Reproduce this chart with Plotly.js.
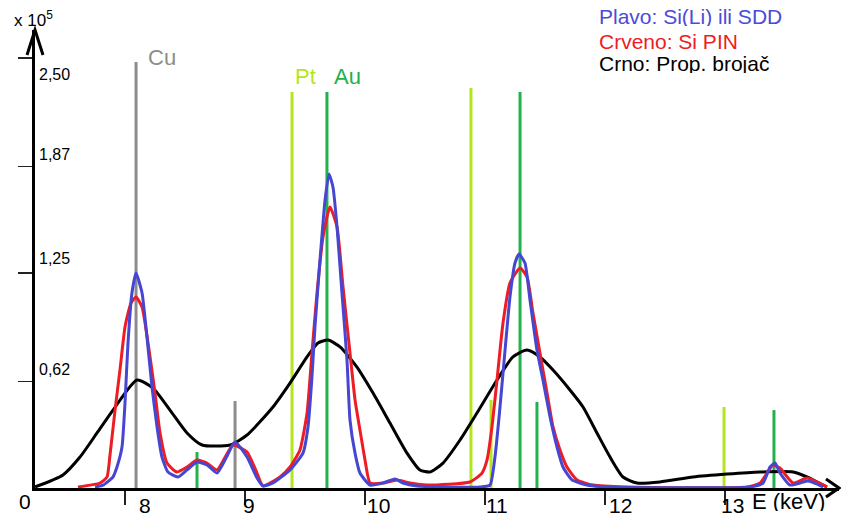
<!DOCTYPE html>
<html>
<head>
<meta charset="utf-8">
<script src="https://cdn.plot.ly/plotly-3.0.1.min.js"></script>
<style>html,body{margin:0;padding:0;background:#fff;}#chart{width:841px;height:517px;}</style>
</head>
<body>
<div id="chart"></div>
<script>
// Energy (keV) and intensity (x 10^5)
const blueE = [7.75,7.817,7.9,7.933,7.975,8.0,8.025,8.058,8.092,8.142,8.183,8.225,8.267,8.308,8.358,8.442,8.517,8.6,8.683,8.767,8.842,8.917,9.017,9.1,9.15,9.233,9.375,9.483,9.525,9.558,9.583,9.625,9.667,9.7,9.733,9.767,9.808,9.85,9.875,9.917,9.958,10.042,10.15,10.25,10.317,10.433,10.625,10.958,11.042,11.083,11.125,11.167,11.208,11.25,11.283,11.333,11.375,11.433,11.483,11.542,11.6,11.65,11.725,11.85,12.017,13.208,13.317,13.375,13.417,13.458,13.542,13.625,13.692,13.767,13.817];
const blueV = [0.006,0.017,0.064,0.122,0.238,0.494,0.843,1.134,1.25,1.134,0.878,0.587,0.355,0.18,0.093,0.064,0.105,0.151,0.134,0.087,0.174,0.267,0.18,0.058,0.012,0.029,0.105,0.203,0.355,0.645,0.936,1.326,1.674,1.826,1.75,1.517,1.134,0.744,0.395,0.203,0.087,0.017,0.029,0.052,0.029,0.012,0.006,0.006,0.017,0.18,0.471,0.802,1.11,1.308,1.36,1.308,1.093,0.802,0.628,0.413,0.238,0.122,0.047,0.017,0.006,0.006,0.029,0.122,0.145,0.087,0.017,0.029,0.041,0.023,0.006];

const redE = [7.608,7.792,7.85,7.875,7.917,7.958,8.0,8.05,8.092,8.142,8.192,8.25,8.292,8.35,8.433,8.517,8.6,8.683,8.767,8.9,9.017,9.1,9.15,9.292,9.375,9.458,9.517,9.558,9.6,9.65,9.708,9.767,9.817,9.875,9.917,9.958,10.0,10.042,10.15,10.267,10.375,10.517,10.875,10.975,11.017,11.058,11.1,11.15,11.208,11.292,11.35,11.4,11.458,11.517,11.567,11.625,11.683,11.767,11.9,12.183,13.183,13.292,13.4,13.458,13.567,13.683,13.767,13.85];
const redV = [0.006,0.029,0.064,0.192,0.453,0.686,0.936,1.076,1.11,1.052,0.843,0.552,0.32,0.145,0.093,0.122,0.163,0.145,0.105,0.25,0.209,0.087,0.012,0.064,0.122,0.221,0.436,0.785,1.134,1.459,1.634,1.517,1.169,0.785,0.512,0.337,0.163,0.029,0.029,0.047,0.029,0.017,0.035,0.087,0.163,0.355,0.628,0.959,1.192,1.279,1.227,1.017,0.785,0.552,0.355,0.221,0.122,0.047,0.017,0.006,0.006,0.029,0.134,0.116,0.029,0.058,0.035,0.006];

const blackE = [7.25,7.483,7.625,7.767,7.9,8.1,8.233,8.375,8.517,8.642,8.875,9.017,9.233,9.375,9.517,9.608,9.692,9.792,9.933,10.067,10.208,10.35,10.458,10.542,10.65,10.792,10.933,11.1,11.233,11.35,11.458,11.567,11.708,11.817,11.933,12.042,12.15,12.267,12.458,12.733,13.017,13.292,13.567,13.683,13.767,13.85];
const blackV = [0.006,0.076,0.18,0.32,0.453,0.628,0.581,0.453,0.32,0.25,0.25,0.308,0.471,0.61,0.762,0.843,0.86,0.82,0.703,0.552,0.378,0.203,0.105,0.093,0.145,0.279,0.436,0.628,0.762,0.802,0.762,0.686,0.57,0.471,0.32,0.18,0.064,0.029,0.035,0.064,0.081,0.093,0.093,0.064,0.035,0.006];

// Characteristic lines: energy, height, element
const lineE = [8.092, 8.917, 8.6, 9.392, 9.683, 10.883, 11.05, 11.292, 11.433, 12.992, 13.408];
const lineH = [2.477, 0.506, 0.209, 2.302, 2.302, 2.326, 0.512, 2.302, 0.5, 0.471, 0.453];
const lineEl = ["Cu", "Cu", "Au", "Pt", "Au", "Pt", "Pt", "Au", "Au", "Pt", "Au"];

const elemColor = {Cu: "#8c8c8c", Pt: "#b5e61d", Au: "#22b14c"};
const elemLabels = ["Cu", "Pt", "Au"];
const elemLabelE = [8.092, 9.392, 9.683];
const elemLabelV = [2.505, 2.395, 2.395];

const xTicks = [8, 9, 10, 11, 12, 13];
const xTickText = ["8", "9", "10", "11", "12", "13"];
const yTicks = [0.62, 1.25, 1.87, 2.50];
const yTickText = ["0,62", "1,25", "1,87", "2,50"];

const legendTexts = ["Plavo: Si(Li) ili SDD", "Crveno: Si PIN", "Crno: Prop. brojač"];
const legendColors = ["#4b4bd8", "#ee1c24", "#000000"];

const FONT = "Liberation Sans, Arial, sans-serif";
const traces = [];
for (let i = 0; i < lineE.length; i++) {
  traces.push({x: [lineE[i], lineE[i]], y: [0, lineH[i]], mode: "lines",
    line: {color: elemColor[lineEl[i]], width: 3}, hoverinfo: "skip", showlegend: false});
}
traces.push({x: blackE, y: blackV, mode: "lines", line: {color: "#000", width: 3, shape: "spline", smoothing: 0.6}, showlegend: false});
traces.push({x: redE, y: redV, mode: "lines", line: {color: "#ee1c24", width: 3, shape: "spline", smoothing: 0.5}, showlegend: false});
traces.push({x: blueE, y: blueV, mode: "lines", line: {color: "#4646d2", width: 3, shape: "spline", smoothing: 0.5}, showlegend: false});

const annotations = [];
elemLabels.forEach((t, i) => annotations.push({x: elemLabelE[i], y: elemLabelV[i], xref: "x", yref: "y",
  text: t, showarrow: false, xanchor: "left", yanchor: "middle", xshift: i === 0 ? 10 : (i === 1 ? 1 : 5),
  font: {family: FONT, size: 22, color: elemColor[t]}}));
// x tick labels, hand-placed just right of each tick as in the drawing
const xLabelShift = [20, 4, 13, 12, 15, 7];
xTicks.forEach((v, i) => annotations.push({x: v, y: 0, xref: "x", yref: "y", text: xTickText[i], showarrow: false,
  xanchor: "center", yanchor: "top", xshift: xLabelShift[i], yshift: -5, height: 20, valign: "middle",
  font: {family: FONT, size: 21, color: "#000"}}));
// y tick labels, inside the axis
yTicks.forEach((v, i) => annotations.push({x: 0, y: v, xref: "paper", yref: "y", text: yTickText[i], showarrow: false,
  xanchor: "left", yanchor: i === yTicks.length - 1 ? "top" : "bottom", xshift: 2, yshift: i === yTicks.length - 1 ? -6 : (i === 1 ? 4 : 1),
  font: {family: FONT, size: 16, color: "#000"}}));
const legY = [1.031, 0.976, 0.928];
legendTexts.forEach((t, i) => annotations.push({x: 0.699, y: legY[i], xref: "paper", yref: "paper",
  text: t, showarrow: false, xanchor: "left", yanchor: "middle", height: 20, valign: "middle",
  font: {family: FONT, size: 21, color: legendColors[i]}}));
annotations.push({x: -0.0125, y: -0.028, xref: "paper", yref: "paper", text: "0", showarrow: false,
  xanchor: "center", yanchor: "middle", height: 20, valign: "middle", font: {family: FONT, size: 21, color: "#000"}});
annotations.push({x: 0.889, y: -0.028, xref: "paper", yref: "paper", text: "E (keV)", showarrow: false,
  xanchor: "left", yanchor: "middle", height: 20, valign: "middle", font: {family: FONT, size: 22, color: "#000"}});
annotations.push({x: 0.0249, y: 1.024, xref: "paper", yref: "paper", text: "x 10<sup>5</sup>", showarrow: false,
  xanchor: "right", yanchor: "middle", font: {family: FONT, size: 17, color: "#000"}});

const layout = {
  width: 841, height: 517,
  margin: {l: 35, r: 2, t: 30, b: 29},
  paper_bgcolor: "#fff", plot_bgcolor: "#fff",
  showlegend: false,
  xaxis: {range: [7.25, 13.95], showgrid: false, zeroline: false, showline: true, linecolor: "#000", linewidth: 3,
    tickvals: xTicks, ticks: "outside", ticklen: 14, tickwidth: 1.5, tickcolor: "#222", showticklabels: false},
  yaxis: {range: [0, 2.663], showgrid: false, zeroline: false, showline: true, linecolor: "#000", linewidth: 3,
    tickvals: yTicks, ticks: "outside", ticklen: 14, tickwidth: 1.5, tickcolor: "#222", showticklabels: false},
  annotations: annotations,
  shapes: [
    {type: "path", xref: "paper", yref: "paper", path: "M -0.00995 0.9454 L 0 1 L 0.00995 0.9454", line: {color: "#000", width: 3}},
    {type: "path", xref: "paper", yref: "paper", path: "M 0.9838 0.0197 L 1.0 0 L 0.9838 -0.0197", line: {color: "#000", width: 3}}
  ]
};
Plotly.newPlot("chart", traces, layout, {staticPlot: true, displayModeBar: false});
</script>
</body>
</html>
